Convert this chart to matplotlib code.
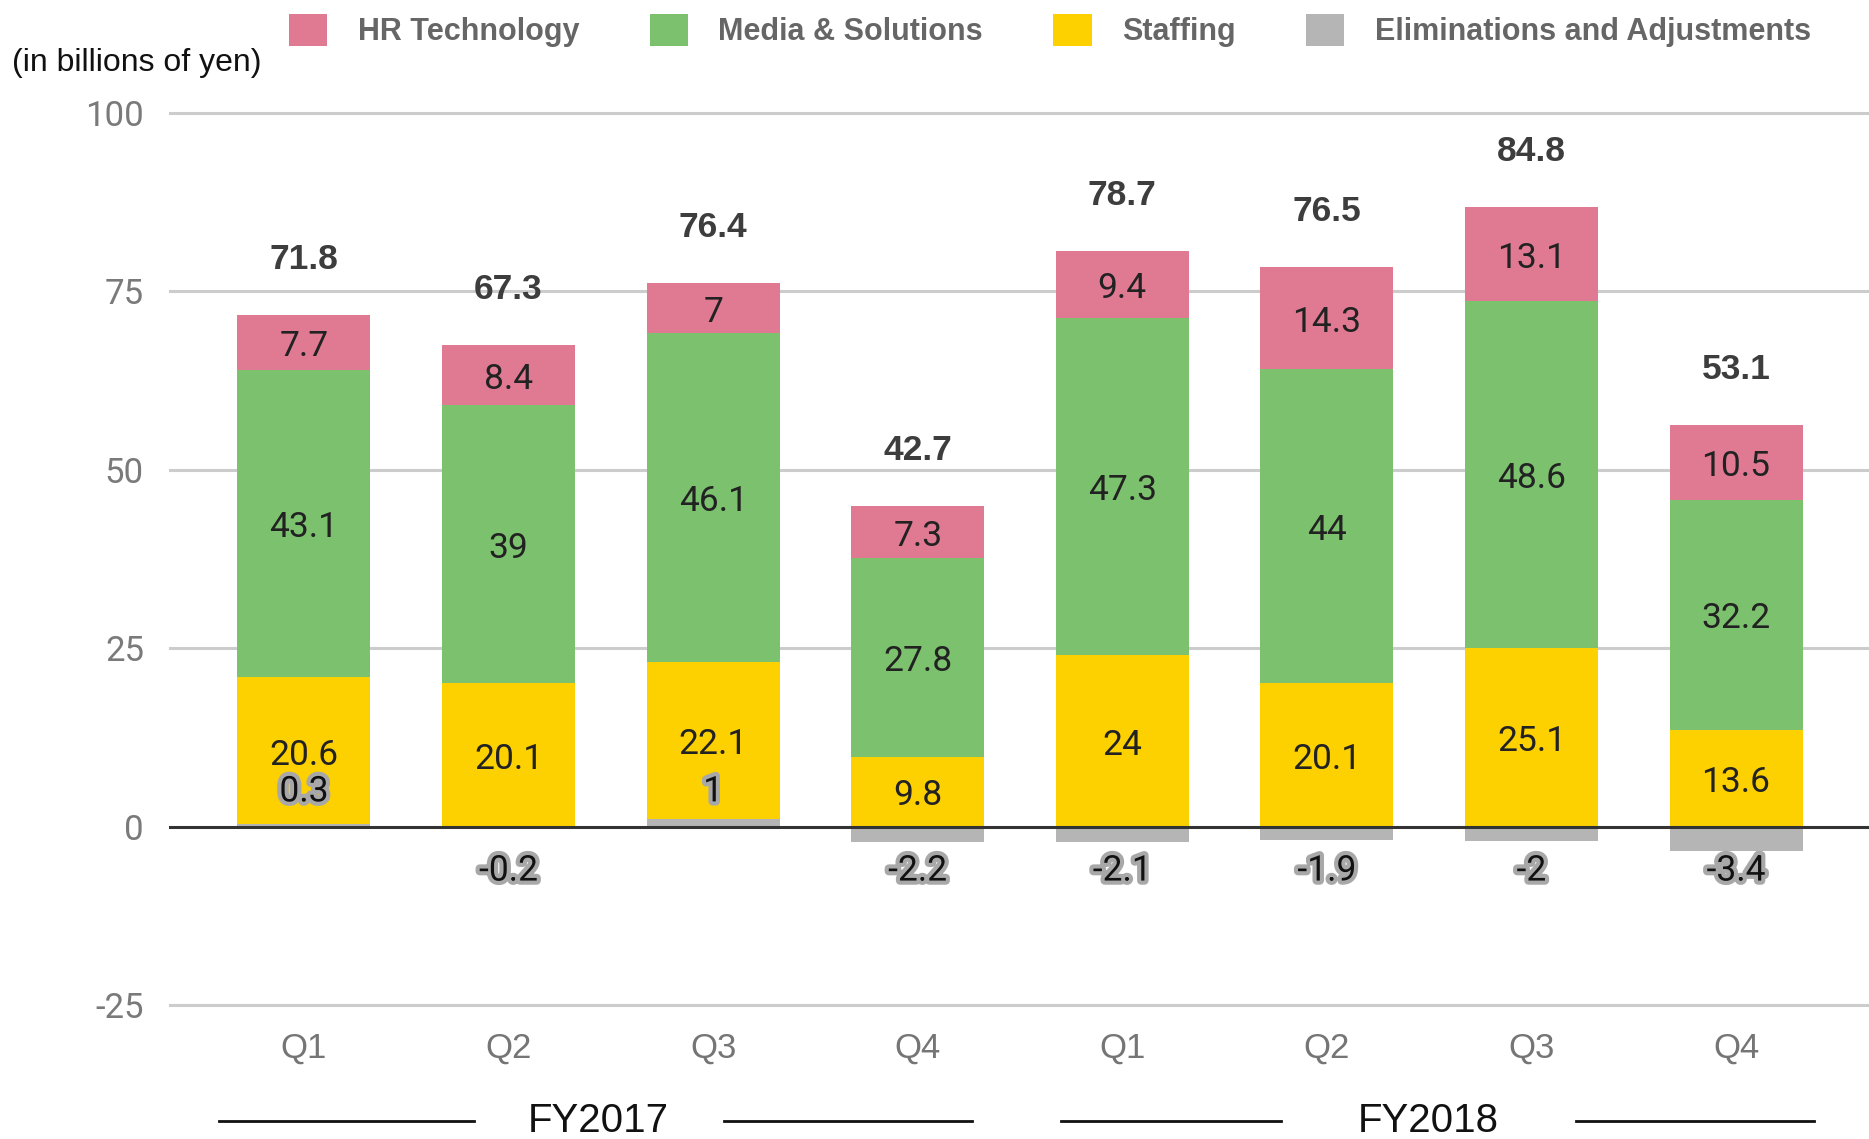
import matplotlib
matplotlib.use("Agg")
import matplotlib.pyplot as plt
import matplotlib.patheffects as pe
from matplotlib.patches import Patch
import numpy as np

quarters = ["Q1", "Q2", "Q3", "Q4", "Q1", "Q2", "Q3", "Q4"]
fiscal_years = ["FY2017", "FY2018"]
series_names = ["HR Technology", "Media & Solutions", "Staffing", "Eliminations and Adjustments"]
hr_tech = [7.7, 8.4, 7.0, 7.3, 9.4, 14.3, 13.1, 10.5]
media = [43.1, 39.0, 46.1, 27.8, 47.3, 44.0, 48.6, 32.2]
staffing = [20.6, 20.1, 22.1, 9.8, 24.0, 20.1, 25.1, 13.6]
elims = [0.3, -0.2, 1.0, -2.2, -2.1, -1.9, -2.0, -3.4]
totals = [71.8, 67.3, 76.4, 42.7, 78.7, 76.5, 84.8, 53.1]
yticks = [-25, 0, 25, 50, 75, 100]

c_hr = "#e07a93"
c_media = "#7cc16e"
c_staff = "#fdd000"
c_elim = "#b5b5b5"

fig = plt.figure(figsize=(18.69, 11.39), dpi=100)
ax = fig.add_axes([0.0904, 0.1051, 0.9096, 0.8082])

x = np.arange(len(quarters))
w = 0.65
hr = np.array(hr_tech); md = np.array(media); st = np.array(staffing); el = np.array(elims)
pos_el = np.where(el > 0, el, 0)
neg_el = np.where(el < 0, el, 0)

ax.bar(x, neg_el, w, color=c_elim, zorder=3)
ax.bar(x, pos_el, w, color=c_elim, zorder=3)
ax.bar(x, st, w, bottom=pos_el, color=c_staff, zorder=3)
ax.bar(x, md, w, bottom=pos_el + st, color=c_media, zorder=3)
ax.bar(x, hr, w, bottom=pos_el + st + md, color=c_hr, zorder=3)

ax.set_xlim(-0.66, 7.65)
ax.set_ylim(-27, 102)
for yv in yticks:
    if yv == 0:
        ax.axhline(0, color="#333333", lw=2.2, zorder=4)
    else:
        ax.axhline(yv, color="#cccccc", lw=2.2, zorder=1)

for s in ax.spines.values():
    s.set_visible(False)
ax.set_yticks(yticks)
ax.set_yticklabels([str(v) for v in yticks], fontsize=25, color="#7a7a7a", family="Roboto")
ax.tick_params(axis="y", length=0, pad=18)
ax.set_xticks(x)
ax.set_xticklabels(quarters, fontsize=25, color="#757575", family="Liberation Sans")
ax.tick_params(axis="x", length=0, pad=9)

lbl_font = dict(fontsize=25.5, color="#222222", family="Roboto", ha="center", va="center", zorder=5,
                textcoords="offset points", xytext=(0, -3))
for i in range(len(x)):
    ax.annotate(f"{st[i]:g}", (x[i], pos_el[i] + st[i] / 2), **lbl_font)
    ax.annotate(f"{md[i]:g}", (x[i], pos_el[i] + st[i] + md[i] / 2), **lbl_font)
    ax.annotate(f"{hr[i]:g}", (x[i], pos_el[i] + st[i] + md[i] + hr[i] / 2), **lbl_font)
    top = pos_el[i] + st[i] + md[i] + hr[i]
    ax.annotate(f"{totals[i]:g}", (x[i], top), xytext=(0, 40), textcoords="offset points",
                ha="center", va="center", fontsize=25.5, fontweight="bold", color="#3d3d3d",
                family="Liberation Sans", zorder=5)
    off = 25 if el[i] > 0 else -32
    t = ax.annotate(f"{el[i]:g}", (x[i], 0), xytext=(0, off), textcoords="offset points",
                    ha="center", va="center", fontsize=25.5, color="#111111", family="Roboto", zorder=6)
    t.set_path_effects([pe.withStroke(linewidth=6, foreground="#a8a8a8")])

handles = [Patch(facecolor=c, edgecolor="none") for c in (c_hr, c_media, c_staff, c_elim)]
leg = fig.legend(handles, series_names, loc="upper left", bbox_to_anchor=(0.14, 1.012), ncol=4,
                 frameon=False, handlelength=1.25, handleheight=1.25, handletextpad=1.0,
                 columnspacing=2.3, prop=dict(family="Liberation Sans", weight="bold", size=22))
for t in leg.get_texts():
    t.set_color("#666666")

fig.text(12 / 1869, 1 - 63 / 1139, "(in billions of yen)", fontsize=23, color="#111111",
         family="Liberation Sans", ha="left", va="center")

# fiscal year group labels below the quarter ticks
fy_y = 1 - 1121 / 1139
fig.text(598 / 1869, fy_y, fiscal_years[0], fontsize=29, color="#111111", family="Liberation Sans",
         ha="center", va="center")
fig.text(1428 / 1869, fy_y, fiscal_years[1], fontsize=29, color="#111111", family="Liberation Sans",
         ha="center", va="center")
for x0, x1 in [(219, 474), (724, 972), (1061, 1281), (1576, 1814)]:
    fig.add_artist(plt.Line2D([x0 / 1869, x1 / 1869], [fy_y, fy_y], color="#111111", lw=2))

fig.savefig("out.png", dpi=100)
